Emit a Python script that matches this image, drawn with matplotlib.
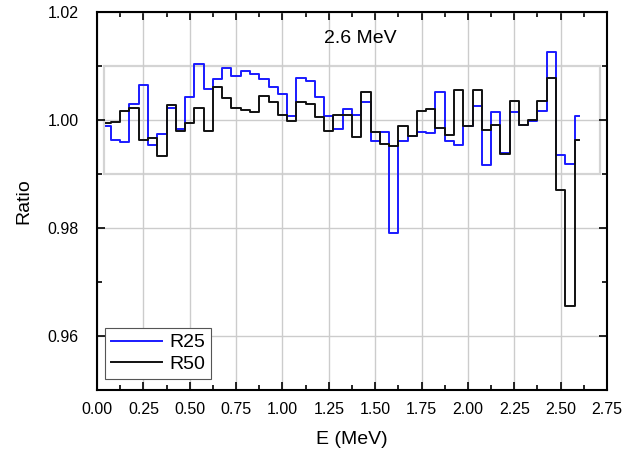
import numpy as np
import matplotlib
matplotlib.use("Agg")
import matplotlib.pyplot as plt
from matplotlib.patches import Rectangle
from matplotlib.ticker import MultipleLocator

plt.rcParams['font.family'] = ['Liberation Sans', 'DejaVu Sans']

# energy bins (MeV), points every 0.05
energy = np.round(np.arange(1, 53) * 0.05, 2)

r25 = [0.9989, 0.9963, 0.9959, 1.0030, 1.0065, 0.9954, 0.9974, 1.0022, 0.9983, 1.0043,
       1.0103, 1.0057, 1.0076, 1.0096, 1.0082, 1.0091, 1.0086, 1.0076, 1.0062, 1.0049,
       1.0007, 1.0078, 1.0072, 1.0043, 1.0007, 0.9983, 1.0020, 1.0010, 1.0034, 0.9962,
       0.9977, 0.9790, 0.9961, 0.9971, 0.9978, 0.9975, 1.0052, 0.9961, 0.9954, 0.9988,
       1.0025, 0.9916, 1.0015, 0.9938, 1.0014, 0.9990, 0.9999, 1.0017, 1.0125, 0.9935,
       0.9919, 1.0008]

r50 = [0.9994, 0.9996, 1.0017, 1.0022, 0.9963, 0.9966, 0.9934, 1.0028, 0.9980, 0.9994,
       1.0022, 0.9980, 1.0062, 1.0041, 1.0023, 1.0019, 1.0015, 1.0045, 1.0034, 1.0009,
       0.9999, 1.0034, 1.0029, 1.0006, 0.9980, 1.0009, 1.0009, 0.9969, 1.0051, 0.9977,
       0.9955, 0.9952, 0.9988, 0.9971, 1.0017, 1.0020, 0.9986, 0.9972, 1.0056, 0.9988,
       1.0056, 0.9981, 0.9990, 0.9937, 1.0036, 0.9990, 1.0000, 1.0035, 1.0078, 0.9870,
       0.9656, 0.9963]

fig = plt.figure(figsize=(6.28, 4.51), dpi=100)
ax = fig.add_axes([0.1545, 0.1353, 0.8121, 0.8381])

ax.grid(True, which='major', color='#cccccc', lw=1.0, zorder=0)

# +-1% band
ax.add_patch(Rectangle((0.04, 0.99), 2.67, 0.02, fill=False,
                       edgecolor='#d4d4d4', lw=1.6, zorder=1))

ax.plot(energy, r25, drawstyle='steps-mid', color='#1a1aff', lw=1.4, label='R25', zorder=3)
ax.plot(energy, r50, drawstyle='steps-mid', color='#111111', lw=1.4, label='R50', zorder=4)

ax.text(1.42, 1.015, '2.6 MeV', fontsize=14, ha='center', va='center')

ax.set_xlim(0, 2.75)
ax.set_ylim(0.95, 1.02)
ax.xaxis.set_major_locator(MultipleLocator(0.25))
ax.xaxis.set_minor_locator(MultipleLocator(0.125))
ax.yaxis.set_major_locator(MultipleLocator(0.02))
ax.yaxis.set_minor_locator(MultipleLocator(0.01))
ax.set_xticklabels([f'{v:.2f}' for v in ax.get_xticks()])
ax.set_yticks([0.96, 0.98, 1.00, 1.02])
ax.set_yticklabels(['0.96', '0.98', '1.00', '1.02'])

ax.tick_params(which='both', direction='in', top=True, right=True, labelsize=11.5, width=1.2)
ax.tick_params(which='major', length=6)
ax.tick_params(which='minor', length=3.5)
ax.tick_params(axis='x', pad=9)
ax.tick_params(axis='y', pad=13)
for s in ax.spines.values():
    s.set_linewidth(1.5)

ax.set_xlabel('E (MeV)', fontsize=14, labelpad=10)
ax.set_ylabel('Ratio', fontsize=14, labelpad=11)

leg = ax.legend(loc='lower left', bbox_to_anchor=(0.016, 0.03), borderaxespad=0,
                fontsize=14, fancybox=False, framealpha=1, edgecolor='#555555',
                handlelength=2.6, handletextpad=0.4, labelspacing=0.2, borderpad=0.3)
leg.get_frame().set_linewidth(0.8)

fig.savefig('out.png', dpi=100)
